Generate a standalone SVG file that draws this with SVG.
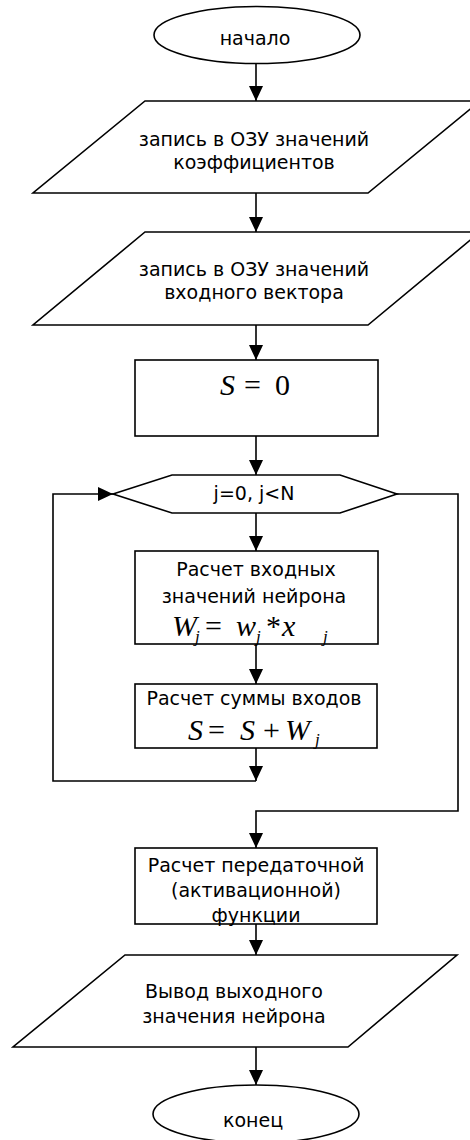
<svg xmlns="http://www.w3.org/2000/svg" width="470" height="1140" viewBox="0 0 470 1140">
<style>
.s{fill:#fff;stroke:#000;stroke-width:1.6}
.c{fill:none;stroke:#000;stroke-width:1.6}
.t{font-family:"DejaVu Sans",sans-serif;font-size:19px;fill:#000;text-anchor:middle}
.m{font-family:"Liberation Serif",serif;font-size:30px;fill:#000}
.i{font-style:italic}
.sub{font-size:17px;font-style:italic}
</style>
<defs>
<marker id="ah" markerUnits="userSpaceOnUse" markerWidth="15" markerHeight="14" refX="15" refY="7" orient="auto">
<path d="M0,0 L15,7 L0,14 z" fill="#000"/>
</marker>
</defs>
<rect width="470" height="1140" fill="#fff"/>
<g id="connectors">
<line class="c" x1="256" y1="63" x2="256" y2="101" marker-end="url(#ah)"/>
<line class="c" x1="256" y1="193" x2="256" y2="232" marker-end="url(#ah)"/>
<line class="c" x1="256" y1="325" x2="256" y2="360" marker-end="url(#ah)"/>
<line class="c" x1="256" y1="436" x2="256" y2="475" marker-end="url(#ah)"/>
<line class="c" x1="256" y1="513" x2="256" y2="551" marker-end="url(#ah)"/>
<line class="c" x1="256" y1="644" x2="256" y2="684" marker-end="url(#ah)"/>
<line class="c" x1="256" y1="748" x2="256" y2="781" marker-end="url(#ah)"/>
<polyline class="c" points="256,781 53,781 53,494 113,494" marker-end="url(#ah)"/>
<polyline class="c" points="397,494 458,494 458,811 256,811 256,848" marker-end="url(#ah)"/>
<line class="c" x1="256" y1="924" x2="256" y2="955" marker-end="url(#ah)"/>
<line class="c" x1="256" y1="1047" x2="256" y2="1085" marker-end="url(#ah)"/>
</g>
<g id="start">
<ellipse class="s" cx="257" cy="35" rx="103" ry="28.5"/>
<text class="t" x="255" y="45">начало</text>
</g>
<g id="input-coef">
<polygon class="s" points="145,101 480,101 368,193 33,193"/>
<text class="t" x="254" y="146">запись в ОЗУ значений</text>
<text class="t" x="254" y="169">коэффициентов</text>
</g>
<g id="input-vector">
<polygon class="s" points="145,232 480,232 368,325 33,325"/>
<text class="t" x="254" y="276">запись в ОЗУ значений</text>
<text class="t" x="254" y="299">входного вектора</text>
</g>
<g id="init">
<rect class="s" x="135" y="360" width="243" height="76"/>
<text class="m" y="395" font-size="32"><tspan class="i" x="220">S</tspan><tspan x="244">=</tspan><tspan x="275">0</tspan></text>
</g>
<g id="loop">
<polygon class="s" points="113,494 172,475 340,475 397,494 340,513 172,513"/>
<text class="t" x="254" y="500">j=0, j&lt;N</text>
</g>
<g id="calc-inputs">
<rect class="s" x="135" y="551" width="243" height="93"/>
<text class="t" x="256" y="576">Расчет входных</text>
<text class="t" x="254" y="603">значений нейрона</text>
<text class="m" y="636"><tspan class="i" x="172">W</tspan><tspan class="sub" x="195" y="642">j</tspan><tspan x="205" y="636">=</tspan><tspan class="i" x="236">w</tspan><tspan class="sub" x="256" y="642">j</tspan><tspan x="266" y="636">*</tspan><tspan class="i" x="282">x</tspan><tspan class="sub" x="323" y="642">j</tspan></text>
</g>
<g id="calc-sum">
<rect class="s" x="135" y="684" width="242" height="64"/>
<text class="t" x="254" y="705">Расчет суммы входов</text>
<text class="m" y="740"><tspan class="i" x="188">S</tspan><tspan x="208">=</tspan><tspan class="i" x="240">S</tspan><tspan x="263">+</tspan><tspan class="i" x="285">W</tspan><tspan class="sub" x="315" y="745">j</tspan></text>
</g>
<g id="activation">
<rect class="s" x="135" y="848" width="242" height="76"/>
<text class="t" x="256" y="872">Расчет передаточной</text>
<text class="t" x="256" y="897">(активационной)</text>
<text class="t" x="256" y="922">функции</text>
</g>
<g id="output">
<polygon class="s" points="125,955 457,955 348,1047 13,1047"/>
<text class="t" x="234" y="998">Вывод выходного</text>
<text class="t" x="234" y="1023">значения нейрона</text>
</g>
<g id="end">
<ellipse class="s" cx="256" cy="1114" rx="103" ry="29"/>
<text class="t" x="253" y="1127">конец</text>
</g>
</svg>
